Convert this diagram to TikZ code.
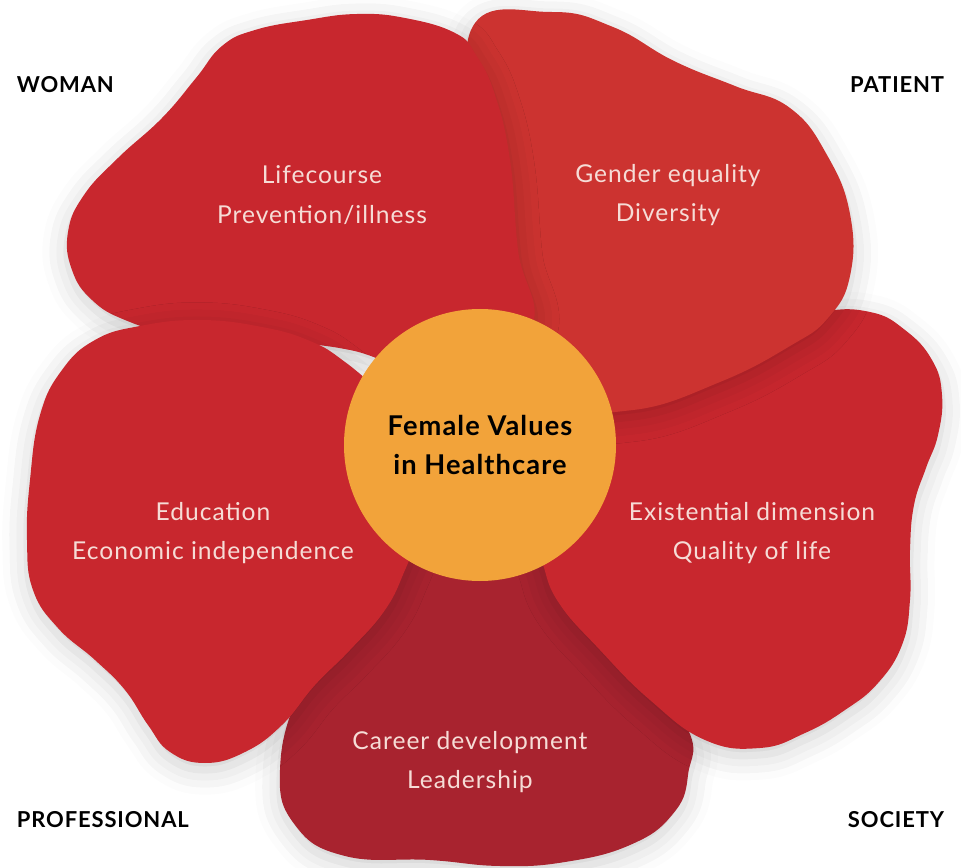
\documentclass[tikz,border=0pt]{standalone}
\usepackage{fontspec}
\setmainfont{Lato}
\newfontfamily\petalfont[LetterSpace=4]{Lato}
\usetikzlibrary{shadows.blur}
\definecolor{petalred}{HTML}{C8272E}
\definecolor{petalorange}{HTML}{CC3330}
\definecolor{petaldark}{HTML}{A8232F}
\definecolor{heartorange}{HTML}{F2A33A}
\definecolor{petalink}{HTML}{F6DCD6}

\begin{document}
\begin{tikzpicture}[x=0.02cm,y=-0.02cm,
  petal/.style={fill=#1, blur shadow={shadow xshift=0pt, shadow yshift=-4pt,
    shadow blur radius=14pt, shadow opacity=20}},
  petaltext/.style={text=petalink, align=center,
    font=\petalfont\fontsize{14}{22.7}\selectfont},
  corner/.style={font=\petalfont\bfseries\fontsize{12.5}{14}\selectfont,
    fill=white, inner xsep=6pt, inner ysep=8pt}]
\useasboundingbox (0,0) rectangle (961,868);
% petals, back to front
\fill[petal=petaldark] plot[smooth cycle, tension=0.75] coordinates {
  (480,480) (350,600) (300,690) (280,770) (295,825) (345,856) (430,860)
  (500,866) (565,862) (630,845) (672,815) (688,775) (683,720) (600,620)};
\fill[petal=petalred] plot[smooth cycle, tension=0.75] coordinates {
  (820,312) (870,312) (905,330) (932,360) (942,395) (938,435) (926,468)
  (914,505) (910,550) (910,600) (902,645) (878,683) (845,710) (805,733)
  (760,748) (705,740) (650,700) (600,650) (557,600) (537,550) (500,480)
  (600,400) (750,330)};
\fill[petal=petalorange] plot[smooth cycle, tension=0.75] coordinates {
  (472,28) (551,12) (613,27) (674,61) (735,86) (790,108) (827,155)
  (850,214) (850,276) (828,318) (790,346) (720,382) (633,410) (560,400)
  (500,330) (482,150)};
\fill[petal=petalred] plot[smooth cycle, tension=0.75] coordinates {
  (455,33) (405,18) (357,14) (307,20) (255,30) (222,46) (196,78)
  (162,118) (118,158) (84,195) (68,232) (72,270) (92,300) (125,320)
  (170,332) (250,340) (350,350) (450,380) (530,330) (518,250) (510,160)
  (495,95) (476,55)};
\fill[petal=petalred] plot[smooth cycle, tension=0.75] coordinates {
  (140,326) (200,320) (262,327) (310,341) (345,362) (390,400) (450,450)
  (420,530) (405,570) (385,610) (350,650) (315,685) (282,725) (245,752)
  (205,763) (170,752) (148,725) (125,690) (95,660) (58,628) (33,590)
  (27,540) (30,480) (40,415) (62,370) (95,340)};
% centre
\fill[heartorange] (480,445) circle[radius=136];
\node[align=center, font=\petalfont\bfseries\fontsize{15.5}{22.7}\selectfont]
  (heart) at (480,445) {Female Values\\in Healthcare};
% petal texts
\node[petaltext] (lifecourse) at (322,195) {Lifecourse\\Prevention/illness};
\node[petaltext] (gender) at (668,195) {Gender equality\\Diversity};
\node[petaltext] (education) at (213,533) {Education\\Economic independence};
\node[petaltext] (existential) at (752,533) {Existential dimension\\Quality of life};
\node[petaltext] (career) at (470,762) {Career development\\Leadership};
% corner labels
\node[corner, anchor=west] (woman) at (6,85) {WOMAN};
\node[corner, anchor=east] (patient) at (955,85) {PATIENT};
\node[corner, anchor=west] (professional) at (6,820) {PROFESSIONAL};
\node[corner, anchor=east] (society) at (955,820) {SOCIETY};
\end{tikzpicture}
\end{document}
